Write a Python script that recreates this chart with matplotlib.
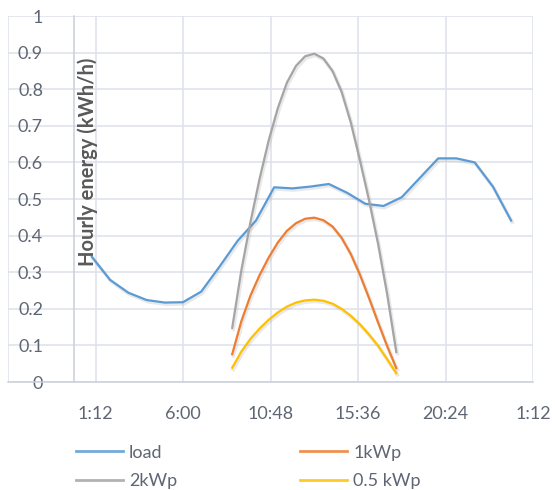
import matplotlib
matplotlib.use("Agg")
import matplotlib.pyplot as plt
import matplotlib.patheffects as pe

# ---- data ----
load_hours = [1, 2, 3, 4, 5, 6, 7, 8, 9, 10, 11, 12, 13, 14, 15, 16, 17, 18, 19, 20, 21, 22, 23, 24]
load_vals = [0.342, 0.279, 0.244, 0.224, 0.217, 0.218, 0.247, 0.315, 0.386, 0.441, 0.532, 0.529,
             0.534, 0.541, 0.517, 0.487, 0.481, 0.505, 0.558, 0.611, 0.611, 0.600, 0.534, 0.441]

pv_hours = [8.7, 9.2, 9.7, 10.2, 10.7, 11.2, 11.7, 12.2, 12.7, 13.2, 13.7, 14.2, 14.7, 15.2,
            15.7, 16.2, 16.7, 17.2, 17.7]
pv_1kwp = [0.076, 0.166, 0.236, 0.292, 0.340, 0.381, 0.413, 0.434, 0.446, 0.449, 0.442, 0.425,
           0.394, 0.350, 0.294, 0.230, 0.163, 0.098, 0.038]
pv_2kwp = [0.148, 0.305, 0.437, 0.555, 0.660, 0.748, 0.818, 0.864, 0.890, 0.897, 0.884, 0.850,
           0.793, 0.710, 0.607, 0.498, 0.378, 0.240, 0.082]
pv_05kwp = [0.039, 0.083, 0.118, 0.146, 0.170, 0.190, 0.206, 0.217, 0.223, 0.225, 0.222, 0.214,
            0.200, 0.181, 0.158, 0.130, 0.099, 0.062, 0.024]

x_ticks = [-3.6, 1.2, 6.0, 10.8, 15.6, 20.4, 25.2]
x_labels = ["", "1:12", "6:00", "10:48", "15:36", "20:24", "1:12"]
y_ticks = [0, 0.1, 0.2, 0.3, 0.4, 0.5, 0.6, 0.7, 0.8, 0.9, 1.0]
y_labels = ["0", "0.1", "0.2", "0.3", "0.4", "0.5", "0.6", "0.7", "0.8", "0.9", "1"]

plt.rcParams['font.family'] = ['Lato', 'DejaVu Sans']

W, H = 555, 490
fig = plt.figure(figsize=(W / 100, H / 100), dpi=100)
ax = fig.add_axes([8 / W, 1 - 382 / H, (533 - 8) / W, (382 - 16) / H])

grid_c = '#DDE2EA'
txt_c = '#5F6673'

shadow = [pe.SimpleLineShadow(offset=(0.8, -1.2), shadow_color='#888888', alpha=0.18, linewidth=2.6),
          pe.Normal()]

series = [
    (load_hours, load_vals, '#5B9BD5', 'load'),
    (pv_hours, pv_2kwp, '#A5A5A5', '2kWp'),
    (pv_hours, pv_1kwp, '#ED7D31', '1kWp'),
    (pv_hours, pv_05kwp, '#FFC000', '0.5 kWp'),
]
handles = {}
for xs, ys, c, lab in series:
    ln, = ax.plot(xs, ys, color=c, lw=1.6, label=lab, solid_joinstyle='round',
                  path_effects=shadow, zorder=3)
    handles[lab] = ln

ax.set_xlim(-3.6, 25.2)
ax.set_ylim(0, 1)
ax.set_xticks(x_ticks)
ax.set_xticklabels(x_labels)
ax.set_yticks(y_ticks)
ax.set_yticklabels(y_labels)
ax.grid(True, color=grid_c, lw=1.1, zorder=0)
ax.set_axisbelow(True)

for s in ['top', 'right']:
    ax.spines[s].set_visible(False)
ax.spines['left'].set_position(('data', 0))
ax.spines['left'].set_color('#C9D0DA')
ax.spines['left'].set_linewidth(1.1)
ax.spines['bottom'].set_color('#C9D0DA')
ax.spines['bottom'].set_linewidth(1.1)

ax.tick_params(axis='both', length=0, colors=txt_c, labelsize=13)
ax.tick_params(axis='y', pad=22)
ax.tick_params(axis='x', pad=17)

fig.text(88 / W, 1 - 162 / H, 'Hourly energy (kWh/h)', rotation=90, ha='center', va='center',
         fontsize=14.5, fontweight='bold', color='#595959')

leg = fig.legend([handles['load'], handles['2kWp'], handles['1kWp'], handles['0.5 kWp']],
                 ['load', '2kWp', '1kWp', '0.5 kWp'], ncol=2, frameon=False,
                 loc='upper left', bbox_to_anchor=(72 / W, 1 - 441 / H),
                 fontsize=13, handlelength=2.6, handletextpad=0.35, columnspacing=6.8,
                 labelspacing=0.7, labelcolor=txt_c, borderaxespad=0, borderpad=0.2)
for l in leg.get_lines():
    l.set_path_effects([pe.Normal()])
    l.set_linewidth(2)
    l.set_alpha(0.85)

fig.savefig('out.png', dpi=100)
